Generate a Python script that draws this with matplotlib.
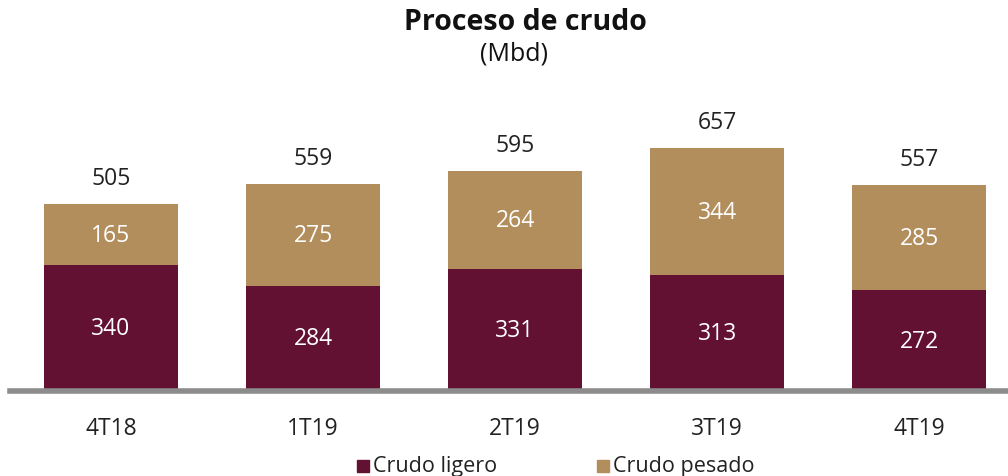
import matplotlib
matplotlib.use("Agg")
import matplotlib.pyplot as plt
from matplotlib.patches import Rectangle

categories = ["4T18", "1T19", "2T19", "3T19", "4T19"]
ligero = [340, 284, 331, 313, 272]
pesado = [165, 275, 264, 344, 285]
totales = [505, 559, 595, 657, 557]

c_lig = "#621132"
c_pes = "#B38E5D"
plt.rcParams['font.family'] = ['Open Sans', 'DejaVu Sans']

fig = plt.figure(figsize=(10.08, 4.77), dpi=100)
ax = fig.add_axes([10/1008, 85/477, 998/1008, 280/477])
x = list(range(len(categories)))
w = 0.665
ax.bar(x, ligero, width=w, color=c_lig)
ax.bar(x, pesado, width=w, bottom=ligero, color=c_pes)
for i in x:
    ax.text(i, ligero[i]/2, str(ligero[i]), ha='center', va='center', color='white', fontsize=16.5)
    ax.text(i, ligero[i] + pesado[i]/2, str(pesado[i]), ha='center', va='center', color='white', fontsize=16.5)
    ax.text(i, totales[i] + 70, str(totales[i]), ha='center', va='center', color='#222222', fontsize=16.5)
ax.set_xlim(-0.5, 4.44)
ax.set_ylim(0, 757)
for s in ['top', 'right', 'left']:
    ax.spines[s].set_visible(False)
ax.spines['bottom'].set_color('#8c8c8c')
ax.spines['bottom'].set_linewidth(4)
ax.set_yticks([])
ax.set_xticks(x)
ax.set_xticklabels(categories, fontsize=16.5, color='#222222')
ax.tick_params(axis='x', length=0, pad=18)

fig.text(525/1008, 1 - 22/477, "Proceso de crudo", ha='center', va='center', fontsize=20.5, fontweight='bold', color='#111111')
fig.text(514/1008, 1 - 54/477, "(Mbd)", ha='center', va='center', fontsize=18, color='#111111')

ly = 1 - 467/477
for lx, col, lab in [(357, c_lig, "Crudo ligero"), (597, c_pes, "Crudo pesado")]:
    fig.patches.append(Rectangle((lx/1008, ly - 6/477), 12/1008, 12/477, transform=fig.transFigure, color=col))
    fig.text((lx + 16)/1008, ly, lab, ha='left', va='center', fontsize=15.5, color='#222222')

fig.savefig("out.png", dpi=100)
